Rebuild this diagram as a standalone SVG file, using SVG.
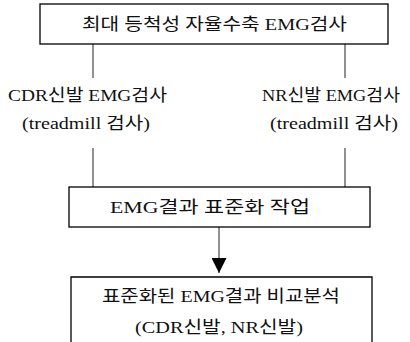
<svg xmlns="http://www.w3.org/2000/svg" width="410" height="342" viewBox="0 0 410 342">
<defs>
<style>
.box{fill:#fff;stroke:#000;stroke-width:1.3}
.ln{stroke:#555;stroke-width:1.3;fill:none}
text{font-family:"Liberation Serif","Noto Sans CJK KR",serif;font-size:17px;fill:#111}
</style>
<marker id="ah" markerWidth="16" markerHeight="15" refX="15" refY="7.5" orient="auto" markerUnits="userSpaceOnUse">
<path d="M0,0 L15,7.5 L0,15 Z" fill="#000"/>
</marker>
</defs>
<g id="connectors">
<line class="ln" x1="93" y1="44" x2="93" y2="78"/>
<line class="ln" x1="345" y1="44" x2="345" y2="78"/>
<line class="ln" x1="93" y1="148" x2="93" y2="187"/>
<line class="ln" x1="345" y1="148" x2="345" y2="187"/>
<line class="ln" x1="219" y1="227" x2="219" y2="273" marker-end="url(#ah)"/>
</g>
<g id="top">
<rect class="box" x="40" y="4" width="348" height="40"/>
<text x="82" y="30" textLength="265" lengthAdjust="spacingAndGlyphs">최대 등척성 자율수축 EMG검사</text>
</g>
<g id="cdr">
<text x="8" y="101" textLength="159" lengthAdjust="spacingAndGlyphs">CDR신발 EMG검사</text>
<text x="22" y="129" textLength="128" lengthAdjust="spacingAndGlyphs">(treadmill 검사)</text>
</g>
<g id="nr">
<text x="262" y="101" textLength="138" lengthAdjust="spacingAndGlyphs">NR신발 EMG검사</text>
<text x="270" y="129" textLength="128" lengthAdjust="spacingAndGlyphs">(treadmill 검사)</text>
</g>
<g id="normalize">
<rect class="box" x="69" y="187" width="301" height="40"/>
<text x="110" y="213" textLength="200" lengthAdjust="spacingAndGlyphs">EMG결과 표준화 작업</text>
</g>
<g id="compare">
<path class="box" d="M71,345 L71,277 L372,277 L372,345"/>
<text x="102" y="302" textLength="238" lengthAdjust="spacingAndGlyphs">표준화된 EMG결과 비교분석</text>
<text x="135" y="333" textLength="168" lengthAdjust="spacingAndGlyphs">(CDR신발, NR신발)</text>
</g>
</svg>
